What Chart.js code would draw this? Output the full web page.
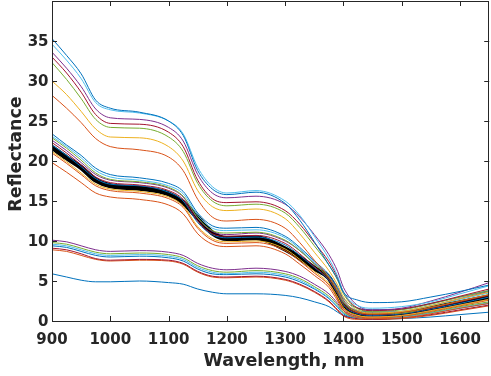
<!DOCTYPE html>
<html>
<head>
<meta charset="utf-8">
<script src="https://cdn.jsdelivr.net/npm/chart.js@4.4.1/dist/chart.umd.min.js"></script>
<style>
  html, body { margin: 0; padding: 0; background: #fff; }
  #wrap { width: 491px; height: 376px; }
</style>
</head>
<body>
<div id="wrap"><canvas id="spectraChart" width="491" height="376"></canvas></div>
<script>
// wavelengths, nm
const wavelengths = [900, 925, 950, 975, 1000, 1050, 1100, 1125, 1150, 1175, 1200, 1250, 1300, 1325, 1350, 1375, 1390, 1400, 1425, 1450, 1500, 1550, 1600, 1650];
const xTicks = [900, 1000, 1100, 1200, 1300, 1400, 1500, 1600];
const yTicks = [0, 5, 10, 15, 20, 25, 30, 35];
const xTitle = "Wavelength, nm";
const yTitle = "Reflectance";

// high reflectance group
const top1 = [35.3, 33.2, 30.9, 27.6, 26.6, 26.1, 25.0, 23.2, 18.8, 16.5, 15.8, 16.1, 14.7, 12.6, 9.9, 7.0, 5.2, 3.6, 2.6, 2.3, 2.4, 3.0, 3.7, 4.5];
const top2 = [34.6, 32.6, 30.3, 27.3, 26.4, 26.0, 25.0, 23.4, 19.2, 16.8, 16.0, 16.3, 15.0, 13.2, 10.6, 7.8, 5.6, 3.6, 1.9, 1.6, 1.8, 2.4, 3.4, 4.4];
const top3 = [33.6, 31.6, 29.3, 26.5, 25.4, 25.2, 24.2, 22.5, 18.3, 16.0, 15.4, 15.6, 14.6, 13.0, 10.8, 8.3, 6.2, 4.2, 1.9, 1.4, 1.6, 2.5, 3.6, 4.8];
const top4 = [33.0, 31.0, 28.6, 25.8, 24.7, 24.6, 23.6, 21.8, 17.6, 15.3, 14.8, 14.9, 13.8, 12.1, 9.8, 7.4, 5.4, 3.6, 1.6, 1.3, 1.5, 2.2, 3.1, 4.0];
const top5 = [32.3, 30.2, 27.8, 25.2, 24.2, 24.1, 23.0, 21.2, 17.2, 15.0, 14.4, 14.6, 13.5, 11.7, 9.4, 7.0, 5.1, 3.4, 1.5, 1.2, 1.4, 2.1, 3.0, 3.8];
const top6 = [30.0, 28.3, 26.2, 24.0, 23.0, 22.9, 21.8, 20.0, 16.3, 14.3, 13.8, 14.0, 12.8, 10.9, 8.6, 6.3, 4.5, 3.0, 1.3, 1.0, 1.2, 1.9, 2.8, 3.6];
const top7 = [28.2, 26.6, 24.8, 22.8, 21.8, 21.4, 20.5, 18.8, 15.2, 13.0, 12.5, 12.7, 11.6, 9.8, 7.6, 5.5, 3.9, 2.6, 1.1, 0.9, 1.1, 1.7, 2.5, 3.3];

// middle group
const mid1 = [23.4, 22.0, 20.7, 19.1, 18.3, 17.9, 17.2, 16.2, 13.5, 11.9, 11.6, 11.7, 10.6, 9.2, 7.5, 5.8, 4.2, 2.8, 1.6, 1.4, 1.5, 2.2, 3.0, 3.8];
const mid2 = [23.1, 21.8, 20.4, 18.8, 18.0, 17.6, 16.9, 15.9, 13.2, 11.6, 11.3, 11.4, 10.4, 9.0, 7.3, 5.6, 3.9, 2.5, 1.3, 1.1, 1.2, 1.9, 2.7, 3.5];
const mid3 = [22.9, 21.6, 20.1, 18.5, 17.7, 17.4, 16.7, 15.6, 12.9, 11.3, 11.0, 11.1, 10.1, 8.8, 7.1, 5.4, 3.7, 2.3, 1.1, 0.9, 1.0, 1.7, 2.5, 3.3];
const mid4 = [22.6, 21.3, 19.8, 18.3, 17.6, 17.3, 16.6, 15.5, 12.8, 11.2, 10.8, 11.0, 10.0, 8.8, 7.2, 5.6, 3.9, 2.4, 1.2, 1.0, 1.2, 1.9, 2.8, 3.7];
const mid5 = [22.3, 21.0, 19.5, 18.0, 17.3, 17.0, 16.3, 15.2, 12.5, 10.9, 10.6, 10.7, 9.7, 8.4, 6.8, 5.2, 3.5, 2.1, 1.0, 0.8, 1.0, 1.6, 2.4, 3.2];
const mid6 = [22.0, 20.7, 19.3, 17.8, 17.1, 16.9, 16.1, 15.0, 12.3, 10.8, 10.4, 10.5, 9.5, 8.2, 6.7, 5.1, 3.4, 2.0, 0.9, 0.7, 0.9, 1.5, 2.2, 3.0];
const mid7 = [21.2, 19.9, 18.5, 17.1, 16.5, 16.2, 15.5, 14.4, 11.8, 10.3, 9.9, 10.0, 9.0, 7.7, 6.2, 4.7, 3.0, 1.7, 0.7, 0.5, 0.7, 1.3, 2.0, 2.7];
const mid8 = [21.0, 19.7, 18.3, 16.9, 16.3, 16.0, 15.3, 14.2, 11.6, 10.1, 9.7, 9.8, 8.8, 7.5, 6.0, 4.5, 2.8, 1.5, 0.6, 0.4, 0.6, 1.2, 1.9, 2.6];
const mid9 = [19.8, 18.6, 17.3, 16.0, 15.5, 15.2, 14.5, 13.4, 10.9, 9.6, 9.3, 9.4, 8.4, 7.1, 5.7, 4.2, 2.5, 1.3, 0.4, 0.3, 0.4, 0.9, 1.6, 2.2];

// low reflectance group
const low1 = [10.1, 9.9, 9.4, 8.9, 8.7, 8.8, 8.6, 8.2, 7.2, 6.6, 6.4, 6.6, 6.2, 5.6, 4.6, 3.4, 2.2, 1.3, 0.6, 0.5, 0.7, 1.3, 2.0, 2.7];
const low2 = [9.8, 9.6, 9.1, 8.6, 8.4, 8.5, 8.3, 7.9, 6.9, 6.3, 6.1, 6.3, 5.9, 5.3, 4.3, 3.1, 2.0, 1.1, 0.5, 0.4, 0.6, 1.1, 1.8, 2.4];
const low3 = [9.6, 9.4, 8.9, 8.4, 8.2, 8.3, 8.1, 7.7, 6.7, 6.1, 5.9, 6.1, 5.7, 5.1, 4.1, 2.9, 1.8, 1.0, 0.4, 0.3, 0.5, 1.0, 1.7, 2.3];
const low4 = [9.4, 9.2, 8.7, 8.2, 8.0, 8.1, 7.9, 7.5, 6.5, 5.9, 5.8, 5.9, 5.5, 4.9, 4.0, 2.8, 1.7, 0.9, 0.4, 0.3, 0.5, 1.0, 1.6, 2.2];
const low5 = [9.1, 8.9, 8.4, 7.8, 7.6, 7.7, 7.6, 7.2, 6.2, 5.6, 5.5, 5.6, 5.2, 4.6, 3.7, 2.5, 1.4, 0.7, 0.3, 0.2, 0.4, 0.8, 1.4, 2.0];
const low6 = [8.9, 8.7, 8.2, 7.7, 7.5, 7.6, 7.5, 7.1, 6.1, 5.5, 5.4, 5.5, 5.1, 4.5, 3.6, 2.4, 1.3, 0.6, 0.2, 0.2, 0.3, 0.7, 1.3, 1.9];
const low7 = [5.9, 5.5, 5.1, 4.9, 4.9, 5.0, 4.8, 4.6, 4.0, 3.6, 3.4, 3.4, 3.2, 2.9, 2.4, 1.8, 1.1, 0.7, 0.3, 0.2, 0.3, 0.5, 0.8, 1.1];

// mean spectrum (thick black)
const meanSpectrum = [21.7, 20.4, 19.2, 17.6, 16.9, 16.6, 15.9, 14.8, 12.9, 11.0, 10.3, 10.4, 9.0, 7.9, 6.6, 5.4, 3.4, 2.0, 1.0, 0.85, 0.9, 1.6, 2.3, 3.0];

const C = {
  blue: "#0072BD", orange: "#D95319", yellow: "#EDB120", purple: "#7E2F8E",
  green: "#77AC30", cyan: "#4DBEEE", red: "#A2142F"
};

const thinSeries = [
  [top1, C.blue], [top2, C.cyan], [top3, C.purple], [top4, C.red], [top5, C.green], [top6, C.yellow], [top7, C.orange],
  [mid1, C.blue], [mid2, C.cyan], [mid3, C.green], [mid4, C.purple], [mid5, C.red], [mid6, C.blue], [mid7, C.yellow], [mid8, C.orange], [mid9, C.orange],
  [low1, C.purple], [low2, C.green], [low3, C.cyan], [low4, C.blue], [low5, C.red], [low6, C.orange], [low7, C.blue]
];

const toPoints = vals => vals.map((v, i) => ({ x: wavelengths[i], y: v }));

const datasets = thinSeries.map(([vals, col]) => ({
  data: toPoints(vals), borderColor: col, borderWidth: 1, pointRadius: 0,
  cubicInterpolationMode: "monotone", fill: false
}));
datasets.push({
  data: toPoints(meanSpectrum), borderColor: "#000", borderWidth: 5, pointRadius: 0,
  cubicInterpolationMode: "monotone", fill: false
});

const AXIS = "#262626";
const FONT = "'DejaVu Sans', sans-serif";

// matlab style box, inward ticks, y labels and axis titles
const boxTicks = {
  id: "boxTicks",
  afterDraw(chart) {
    const { ctx, chartArea: a, scales: { x, y } } = chart;
    ctx.save();
    ctx.strokeStyle = AXIS;
    ctx.lineWidth = 1;
    ctx.beginPath();
    xTicks.forEach(t => {
      const px = Math.round(x.getPixelForValue(t)) + 0.5;
      ctx.moveTo(px, a.bottom); ctx.lineTo(px, a.bottom - 5);
      ctx.moveTo(px, a.top); ctx.lineTo(px, a.top + 5);
    });
    yTicks.forEach(t => {
      const py = Math.round(y.getPixelForValue(t)) + 0.5;
      ctx.moveTo(a.left, py); ctx.lineTo(a.left + 5, py);
      ctx.moveTo(a.right, py); ctx.lineTo(a.right - 5, py);
    });
    ctx.stroke();
    ctx.strokeRect(Math.round(a.left) + 0.5, Math.round(a.top) + 0.5, Math.round(a.right - a.left) - 1, Math.round(a.bottom - a.top));

    ctx.fillStyle = AXIS;
    ctx.font = "bold 15px " + FONT;
    ctx.textAlign = "right";
    ctx.textBaseline = "middle";
    yTicks.forEach(t => ctx.fillText(String(t), a.left - 3.5, y.getPixelForValue(t) + 1));

    ctx.font = "bold 17.5px " + FONT;
    ctx.textAlign = "center";
    ctx.textBaseline = "alphabetic";
    ctx.fillText(xTitle, 284, 366);

    ctx.translate(21, 154);
    ctx.rotate(-Math.PI / 2);
    ctx.fillText(yTitle, 0, 0);
    ctx.restore();
  }
};

new Chart(document.getElementById("spectraChart").getContext("2d"), {
  type: "line",
  data: { datasets },
  options: {
    responsive: false,
    animation: false,
    layout: { autoPadding: false, padding: { top: 1, right: 1, left: 52, bottom: 0 } },
    plugins: { legend: { display: false }, tooltip: { enabled: false } },
    scales: {
      x: {
        type: "linear", min: 900, max: 1650,
        afterBuildTicks: s => { s.ticks = xTicks.map(v => ({ value: v })); },
        afterFit: s => { s.height = 55; },
        grid: { display: false, drawTicks: false },
        border: { display: false },
        ticks: { color: AXIS, padding: 10, maxRotation: 0, callback: v => String(v), font: { family: FONT, size: 15, weight: "bold" } },
        title: { display: false }
      },
      y: {
        type: "linear", min: 0, max: 40, display: false
      }
    }
  },
  plugins: [boxTicks]
});
</script>
</body>
</html>
